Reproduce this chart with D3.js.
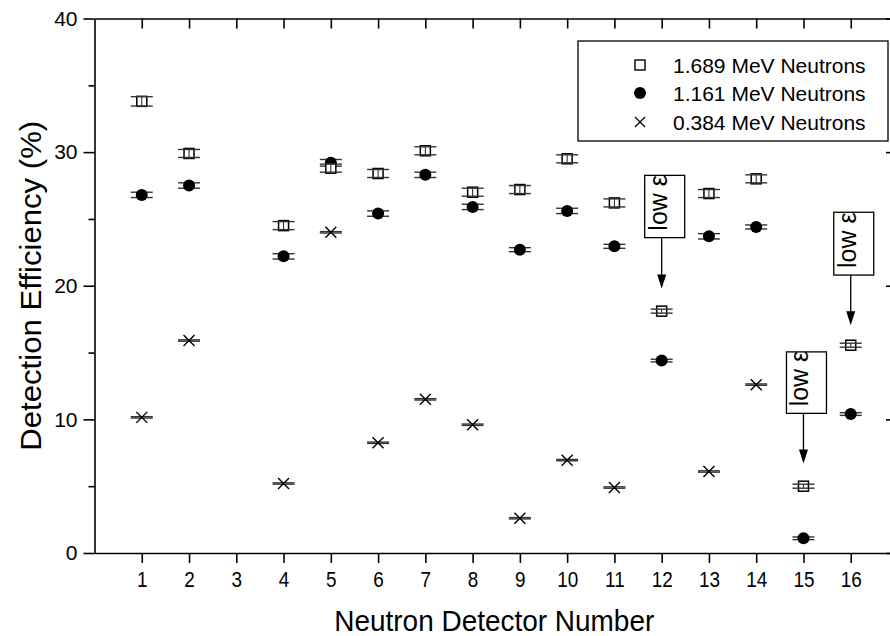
<!DOCTYPE html>
<html><head><meta charset="utf-8">
<script src="https://cdn.jsdelivr.net/npm/d3@7"></script>
<style>
body{margin:0;background:#fff}
svg{display:block}
text{font-family:"Liberation Sans",Arial,Helvetica,sans-serif;fill:#000}
</style></head>
<body><svg width="890" height="636"></svg>
<script>
// ---- data ----
const detectors = [1,2,3,4,5,6,7,8,9,10,11,12,13,14,15,16];
const seriesNames = ["1.689 MeV Neutrons","1.161 MeV Neutrons","0.384 MeV Neutrons"];
const eff1689 = [33.8,29.9,null,24.5,28.8,28.4,30.1,27.0,27.2,29.5,26.2,18.1,26.9,28.0,5.0,15.55];
const err1689 = [0.35,0.3,null,0.3,0.3,0.3,0.3,0.3,0.3,0.3,0.3,0.15,0.3,0.3,0.15,0.15];
const eff1161 = [26.8,27.5,null,22.2,29.2,25.4,28.3,25.9,22.7,25.6,22.95,14.4,23.7,24.4,1.1,10.4];
const err1161 = [0.2,0.2,null,0.2,0.25,0.2,0.2,0.2,0.15,0.2,0.15,0.1,0.2,0.15,0.1,0.1];
const eff0384 = [10.15,15.9,null,5.2,24.0,8.25,11.5,9.6,2.6,6.95,4.9,null,6.1,12.6,null,null];
const err0384 = [0.05,0.05,null,0.05,0.05,0.05,0.05,0.05,0.05,0.05,0.05,null,0.05,0.05,null,null];
const yMajor = [0,10,20,30,40];
const yMinor = [5,15,25,35];
// annotations: detector, box top, box bottom, arrow tip (in % units)
const annDet = [12,15,16];
const annTop = [28.26,15.05,25.5];
const annBottom = [23.6,10.45,20.8];
const annTip = [19.8,6.7,17.05];
const annText = "low ε";

// ---- scales ----
const svg = d3.select("svg");
const x = d3.scaleLinear().domain([0,17]).range([94.5,898]);
const y = d3.scaleLinear().domain([0,40]).range([553,18.5]);

const axisStyle = g => {
  g.selectAll("path,line").attr("stroke","#000").attr("stroke-width",1.6);
  g.selectAll("text").attr("font-size",21).attr("fill","#000").attr("font-family",'"Liberation Sans",Arial,sans-serif');
};

// bottom
svg.append("g").attr("transform",`translate(0,${y(0)})`)
  .call(d3.axisBottom(x).tickValues(detectors).tickSize(10).tickSizeOuter(0).tickPadding(8))
  .call(axisStyle)
  .call(g => g.selectAll(".tick text").attr("font-size",22).attr("transform","scale(0.86,1)"));
// top
svg.append("g").attr("transform",`translate(0,${y(40)})`)
  .call(d3.axisTop(x).tickValues(detectors).tickSize(-10).tickSizeOuter(0).tickFormat(""))
  .call(axisStyle);
// left major
svg.append("g").attr("transform",`translate(${x(0)},0)`)
  .call(d3.axisLeft(y).tickValues(yMajor).tickSize(11).tickSizeOuter(0).tickPadding(6))
  .call(axisStyle);
// left minor
svg.append("g").attr("transform",`translate(${x(0)},0)`)
  .call(d3.axisLeft(y).tickValues(yMinor).tickSize(6).tickSizeOuter(0).tickFormat(""))
  .call(axisStyle).select(".domain").remove();
// right
svg.append("g").attr("transform",`translate(${x(17)},0)`)
  .call(d3.axisRight(y).tickValues(yMajor).tickSize(-12).tickSizeOuter(0).tickFormat(""))
  .call(axisStyle);

// titles
svg.append("text").attr("x",(x(0)+x(17))/2 - 2).attr("y",631)
  .attr("text-anchor","middle").attr("font-size",30)
  .attr("textLength",320).attr("lengthAdjust","spacingAndGlyphs")
  .text("Neutron Detector Number");
svg.append("text").attr("transform",`translate(41,${(y(0)+y(40))/2}) rotate(-90)`)
  .attr("text-anchor","middle").attr("font-size",30)
  .attr("textLength",330).attr("lengthAdjust","spacingAndGlyphs")
  .text("Detection Efficiency (%)");

// ---- data marks ----
function build(vals, errs){
  return detectors.map((d,i)=>({d, v: vals[i], e: errs[i]})).filter(p=>p.v!==null);
}
const s1 = build(eff1689, err1689), s2 = build(eff1161, err1161), s3 = build(eff0384, err0384);
const capW = 11;

function errBars(g, data){
  const eg = g.selectAll("g.eb").data(data).join("g").attr("class","eb");
  eg.append("line").attr("x1",p=>x(p.d)).attr("x2",p=>x(p.d)).attr("y1",p=>y(p.v+p.e)).attr("y2",p=>y(p.v-p.e))
    .attr("stroke","#222").attr("stroke-width",1);
  eg.append("line").attr("x1",p=>x(p.d)-capW).attr("x2",p=>x(p.d)+capW).attr("y1",p=>y(p.v+p.e)).attr("y2",p=>y(p.v+p.e))
    .attr("stroke","#333").attr("stroke-width",1.4);
  eg.append("line").attr("x1",p=>x(p.d)-capW).attr("x2",p=>x(p.d)+capW).attr("y1",p=>y(p.v-p.e)).attr("y2",p=>y(p.v-p.e))
    .attr("stroke","#333").attr("stroke-width",1.4);
}

// crosses
const g3 = svg.append("g");
errBars(g3.append("g"), s3);
g3.selectAll("path.cr").data(s3).join("path").attr("class","cr")
  .attr("d",p=>{const cx=x(p.d), cy=y(p.v), r=5.5; return `M${cx-r},${cy-r}L${cx+r},${cy+r}M${cx-r},${cy+r}L${cx+r},${cy-r}`;})
  .attr("stroke","#000").attr("stroke-width",1.4).attr("fill","none");

// circles
const g2 = svg.append("g");
errBars(g2.append("g"), s2);
g2.selectAll("circle").data(s2).join("circle")
  .attr("cx",p=>x(p.d)).attr("cy",p=>y(p.v)).attr("r",6).attr("fill","#000");

// squares
const g1 = svg.append("g");
g1.selectAll("rect").data(s1).join("rect")
  .attr("x",p=>x(p.d)-5).attr("y",p=>y(p.v)-5).attr("width",10).attr("height",10)
  .attr("fill","#fff").attr("stroke","#000").attr("stroke-width",1.5);
errBars(g1.append("g"), s1);

// ---- annotations ----
const ann = annDet.map((d,i)=>({d, top: annTop[i], bottom: annBottom[i], tip: annTip[i]}));
const ag = svg.selectAll("g.ann").data(ann).join("g").attr("class","ann");
ag.append("rect").attr("x",a=>x(a.d)-17).attr("y",a=>y(a.top)).attr("width",40)
  .attr("height",a=>y(a.bottom)-y(a.top)).attr("fill","#fff").attr("stroke","#000").attr("stroke-width",1.3);
ag.append("text").attr("transform",a=>`translate(${x(a.d)+5},${y(a.bottom)-7}) rotate(-90)`)
  .attr("font-size",25).text(annText);
ag.append("line").attr("x1",a=>x(a.d)).attr("x2",a=>x(a.d)).attr("y1",a=>y(a.bottom)).attr("y2",a=>y(a.tip)-12)
  .attr("stroke","#000").attr("stroke-width",1.3);
ag.append("path").attr("d",a=>{const cx=x(a.d), ty=y(a.tip); return `M${cx},${ty}L${cx-4.5},${ty-14}L${cx+4.5},${ty-14}Z`;})
  .attr("fill","#000");

// ---- legend ----
const lg = svg.append("g");
lg.append("rect").attr("x",578).attr("y",41).attr("width",310).attr("height",100)
  .attr("fill","#fff").attr("stroke","#000").attr("stroke-width",1.3);
const rowY = [65,93,122];
seriesNames.forEach((n,i)=>{
  const cx = 640, cy = rowY[i];
  if(i===0) lg.append("rect").attr("x",cx-5).attr("y",cy-5).attr("width",10).attr("height",10).attr("fill","#fff").attr("stroke","#000").attr("stroke-width",1.4);
  if(i===1) lg.append("circle").attr("cx",cx).attr("cy",cy).attr("r",6).attr("fill","#000");
  if(i===2) lg.append("path").attr("d",`M${cx-5},${cy-5}L${cx+5},${cy+5}M${cx-5},${cy+5}L${cx+5},${cy-5}`).attr("stroke","#000").attr("stroke-width",1.3);
  lg.append("text").attr("x",673).attr("y",cy).attr("dy","0.36em").attr("font-size",21).text(n);
});
</script></body></html>
